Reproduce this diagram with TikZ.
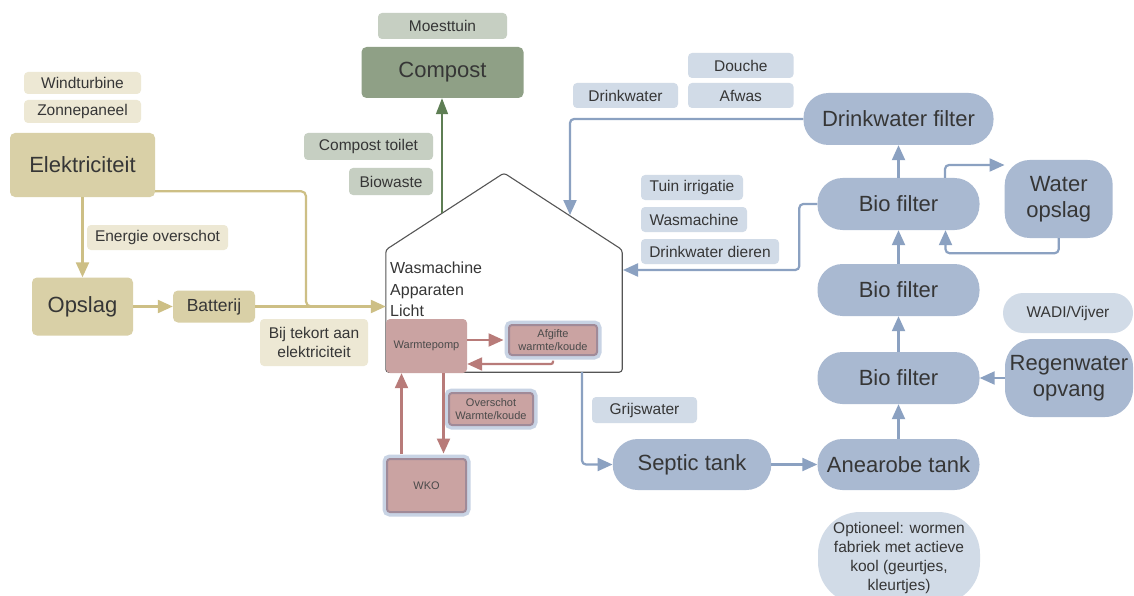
\documentclass[tikz,border=0pt]{standalone}
\usepackage{fontspec}
\setmainfont{Liberation Sans}
\usetikzlibrary{arrows.meta}
\definecolor{txt}{HTML}{363636}
\definecolor{txtS}{HTML}{4A4A4A}
\definecolor{tanD}{HTML}{D9D0A7}
\definecolor{tanL}{HTML}{EDE8D4}
\definecolor{tanLine}{HTML}{CDBF85}
\definecolor{sageD}{HTML}{8FA086}
\definecolor{sageL}{HTML}{C6CFC2}
\definecolor{greenLine}{HTML}{5E7E54}
\definecolor{rose}{HTML}{CAA3A2}
\definecolor{roseLine}{HTML}{B87B79}
\definecolor{mauve}{HTML}{A08A98}
\definecolor{glow}{HTML}{C8D3E4}
\definecolor{blueD}{HTML}{A9B9D1}
\definecolor{blueL}{HTML}{D1DBE7}
\definecolor{blueLine}{HTML}{8BA1C1}
\definecolor{houseLine}{HTML}{555555}
\begin{document}
\begin{tikzpicture}[x=1pt,y=-1pt,
  base/.style={inner sep=0pt, text=txt, align=center},
  sz/.style 2 args={minimum width=#1pt, minimum height=#2pt},
  fbig/.style={font=\fontsize{22}{26}\selectfont},
  flbl/.style={font=\fontsize{15.5}{19}\selectfont},
  fsmall/.style={font=\fontsize{11}{13.5}\selectfont},
  tanbig/.style={base, fill=tanD, rounded corners=5pt, fbig},
  tanlbl/.style={base, fill=tanL, rounded corners=4pt, flbl},
  sagebig/.style={base, fill=sageD, rounded corners=5pt, fbig},
  sagelbl/.style={base, fill=sageL, rounded corners=4pt, flbl},
  pill/.style={base, fill=blueD, rounded corners=25pt, fbig},
  bluelbl/.style={base, fill=blueL, rounded corners=4pt, flbl},
  rosebox/.style={base, fill=rose, rounded corners=4pt, fsmall, text=txtS},
  rosedbl/.style={base, fill=rose, draw=mauve, line width=2pt, rounded corners=3pt,
    fsmall, text=txtS, preaction={draw=glow, line width=9pt, rounded corners=5pt}},
  tip/.style={-{Triangle[length=15pt,width=13pt]}},
  tanarr/.style={tip, draw=tanLine, line width=2.2pt},
  greenarr/.style={-{Triangle[length=16pt,width=12pt]}, draw=greenLine, line width=1.6pt},
  bluearr/.style={tip, draw=blueLine, line width=2.2pt, rounded corners=4pt},
  rosearr/.style={tip, draw=roseLine, line width=2.2pt},
]
\useasboundingbox (0,0) rectangle (1134,596);
\clip (0,0) rectangle (1134,596);
\fill[white] (0,0) rectangle (1134,596);

% ---------- energy (left) ----------
\node[tanlbl, sz={117}{22}] (wind) at (82.5,83) {Windturbine};
\node[tanlbl, sz={117}{23}] (zon) at (82.5,111.5) {Zonnepaneel};
\node[tanbig, sz={145}{64}] (elek) at (82.5,165) {Elektriciteit};
\node[tanlbl, sz={141}{25}] (eover) at (157.5,237.5) {Energie overschot};
\node[tanbig, sz={101}{58}] (opslag) at (82.5,306.5) {Opslag};
\node[tanbig, sz={82}{32}, font=\fontsize{17.5}{20}\selectfont] (batt) at (214,306.5) {Batterij};
\node[tanlbl, sz={108}{47}] (tekort) at (314,342.5) {Bij tekort aan\\elektriciteit};

% ---------- compost ----------
\node[sagelbl, sz={129}{26}] (moes) at (442.5,26) {Moesttuin};
\node[sagebig, sz={162}{51}] (compost) at (442.5,72.5) {Compost};
\node[sagelbl, sz={129}{27}] (ctoilet) at (368.5,146.5) {Compost toilet};
\node[sagelbl, sz={84}{27}] (bio) at (391,181.5) {Biowaste};

% ---------- house ----------
\node[base, sz={236}{122}] (house) at (504,311) {};
\coordinate (apex) at (504,173);
\draw[houseLine, line width=1.1pt, rounded corners=3pt]
  (house.south west) -- (house.north west) -- (apex) -- (house.north east)
  -- (house.south east) -- cycle;
\node[base, anchor=north west, align=left, font=\fontsize{16}{21.5}\selectfont] (htext) at (390,262)
  {Wasmachine\\Apparaten\\Licht};
\coordinate (roofG) at (442,213);
\coordinate (roofB) at (570,215);
\coordinate (dierIn) at (623,270);

\node[rosebox, sz={81}{54}] (wp) at (426.5,346) {Warmtepomp};
\node[rosedbl, sz={88}{30}] (afg) at (553,340) {Afgifte\\warmte/koude};
\node[rosedbl, sz={84}{32}] (over) at (491,409) {Overschot\\Warmte/koude};
\node[rosedbl, sz={79}{53}] (wko) at (426.5,485.5) {WKO};

% ---------- water ----------
\node[bluelbl, sz={105.5}{25}] (douche) at (740.8,65.5) {Douche};
\node[bluelbl, sz={105.5}{25}] (afwas) at (740.8,95.5) {Afwas};
\node[bluelbl, sz={105}{25}] (dw) at (625.5,95.5) {Drinkwater};
\node[pill, sz={190}{52}] (df) at (898.5,119) {Drinkwater filter};
\node[bluelbl, sz={102}{25}] (tuin) at (692,187.5) {Tuin irrigatie};
\node[bluelbl, sz={106}{25}] (wasm) at (694,219.5) {Wasmachine};
\node[bluelbl, sz={138}{25}] (dier) at (710,251.5) {Drinkwater dieren};
\node[pill, sz={162}{52}] (bf1) at (898.5,204) {Bio filter};
\node[base, fill=blueD, rounded corners=25pt, sz={108}{78}, fbig] (wo) at (1058.7,199) {Water\\opslag};
\node[pill, sz={162}{52}] (bf2) at (898.5,290) {Bio filter};
\node[base, fill=blueL, rounded corners=20pt, sz={130}{40}, flbl] (wadi) at (1068,313) {WADI/Vijver};
\node[pill, sz={162}{52}] (bf3) at (898.5,378) {Bio filter};
\node[base, fill=blueD, rounded corners=28pt, sz={128}{78}, fbig] (regen) at (1069,378) {Regenwater\\opvang};
\node[bluelbl, sz={105}{26}] (grijs) at (644.5,410) {Grijswater};
\node[pill, sz={158.5}{51}] (sep) at (692,464.5) {Septic tank};
\node[pill, sz={162}{51}] (an) at (898.5,464.5) {Anearobe tank};
\node[base, fill=blueL, rounded corners=42pt, sz={162}{92}, flbl] (opt) at (899,558)
  {Optioneel: wormen\\fabriek met actieve\\kool (geurtjes,\\kleurtjes)};

% ---------- connectors: energy ----------
\draw[tanarr] (elek.south) -- (opslag.north);
\draw[tanarr] (opslag.east) -- (batt.west);
\coordinate (tj) at (306,306.5);
\draw[tanLine, line width=2.2pt, rounded corners=5pt]
  ([yshift=6pt]elek.south east) -| (tj) -- ([xshift=12pt]tj);
\draw[tanarr] (batt.east) -- (batt.east -| house.west);

% ---------- connectors: compost ----------
\draw[greenarr] (roofG) -- (roofG |- compost.south);

% ---------- connectors: heat ----------
\draw[rosearr] (wp.east |- afg.west) -- ([xshift=-4.5pt]afg.west);
\draw[rosearr, rounded corners=2pt] ([yshift=-4.5pt]afg.south) |- ([yshift=-18pt]wp.east);
\draw[rosearr] ([xshift=17pt]wp.south) -- ([xshift=17pt,yshift=4.5pt]wko.north);
\draw[rosearr] ([xshift=-25pt,yshift=4.5pt]wko.north) -- ([xshift=-25pt]wp.south);

% ---------- connectors: water ----------
\draw[bluearr] (df.west) -| (roofB);
\draw[bluearr] (bf1.west) -- ++(-18,0) |- (dierIn);
\draw[bluearr] (bf1.north) -- (df.south);
\draw[bluearr] ([xshift=46.5pt]bf1.north) |- ([yshift=34pt]wo.west);
\draw[bluearr] (wo.south) -- ++(0,15) -| ([xshift=47pt]bf1.south);
\draw[bluearr] (bf2.north) -- (bf1.south);
\draw[bluearr] (bf3.north) -- (bf2.south);
\draw[bluearr] (an.north) -- (bf3.south);
\draw[bluearr] (regen.west) -- (bf3.east);
\draw[bluearr] ([xshift=78pt]house.south) |- (sep.west);
\draw[bluearr] (sep.east) -- (an.west);
\end{tikzpicture}
\end{document}
